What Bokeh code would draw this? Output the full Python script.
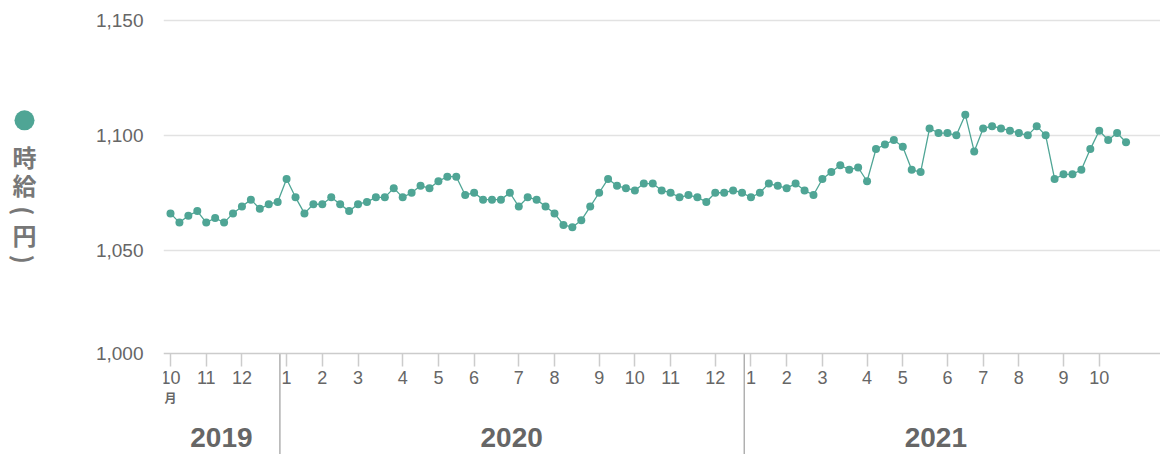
import math
import pandas as pd
from bokeh.plotting import figure
from bokeh.layouts import row
from bokeh.models import Range1d, LinearAxis, FixedTicker, ColumnDataSource, Grid
from bokeh.core.properties import value
from bokeh.embed import file_html
from bokeh.resources import INLINE

# ---------------- data ----------------
first_week = "2019-10-07"          # weekly series (Mondays)
wage = [1066, 1062, 1065, 1067, 1062, 1064, 1062, 1066, 1069, 1072,
        1068, 1070, 1071, 1081, 1073, 1066, 1070, 1070, 1073, 1070,
        1067, 1070, 1071, 1073, 1073, 1077, 1073, 1075, 1078, 1077,
        1080, 1082, 1082, 1074, 1075, 1072, 1072, 1072, 1075, 1069,
        1073, 1072, 1069, 1066, 1061, 1060, 1063, 1069, 1075, 1081,
        1078, 1077, 1076, 1079, 1079, 1076, 1075, 1073, 1074, 1073,
        1071, 1075, 1075, 1076, 1075, 1073, 1075, 1079, 1078, 1077,
        1079, 1076, 1074, 1081, 1084, 1087, 1085, 1086, 1080, 1094,
        1096, 1098, 1095, 1085, 1084, 1103, 1101, 1101, 1100, 1109,
        1093, 1103, 1104, 1103, 1102, 1101, 1100, 1104, 1100, 1081,
        1083, 1083, 1085, 1094, 1102, 1098, 1101, 1097]
y_ticks = [1005, 1050, 1100, 1150]
y_tick_labels = ["1,000", "1,050", "1,100", "1,150"]
grid_values = [1050, 1100, 1150]
month_suffix = "月"
legend_chars = ["時", "給", "円"]
legend_parens = ["(", ")"]          # drawn rotated (vertical writing)

# ---------------- derived ----------------
weeks = pd.date_range(first_week, periods=len(wage), freq="W-MON")
idx = list(range(len(wage)))
month_ticks = [i for i in idx if i == 0 or weeks[i].month != weeks[i - 1].month]
month_labels = {i: str(weeks[i].month) for i in month_ticks}
years = sorted(set(int(y) for y in weeks.year))
year_first = [min(i for i in idx if weeks[i].year == y) for y in years]
year_last = [max(i for i in idx if weeks[i].year == y) for y in years]

TEAL = "#4fa595"
GRAY = "#666666"
FONT = "Liberation Sans"
CJK = "Noto Sans CJK JP"
H = 454
LEFT_W = 60
MAIN_W = 1160 - LEFT_W

# ---------------- left legend panel ----------------
lp = figure(width=LEFT_W, height=H, x_range=Range1d(0, LEFT_W), y_range=Range1d(H, 0),
            x_axis_type=None, y_axis_type=None, output_backend="svg",
            toolbar_location=None, min_border=0, title=None)
lp.outline_line_color = None
lp.grid.visible = False
lp.scatter(x=[24], y=[110], size=20, fill_color=TEAL, line_color=None)
lp.text(x=[24] * len(legend_chars), y=[147, 176, 228], text=legend_chars,
        text_align="center", text_baseline="middle",
        text_font=value(CJK), text_font_style="bold",
        text_font_size="24px", text_color="#777777")
lp.text(x=[24, 24], y=[203, 253], text=legend_parens, angle=-math.pi / 2,
        text_align="center", text_baseline="middle",
        text_font=value(CJK), text_font_style="bold",
        text_font_size="24px", text_color="#777777")

# ---------------- main chart ----------------
p = figure(width=MAIN_W, height=H, x_range=Range1d(-0.784, 110.86),
           y_range=Range1d(961.02, 1153.05),
           x_axis_type=None, y_axis_type=None,
           output_backend="svg", toolbar_location=None, title=None,
           min_border_left=163 - LEFT_W, min_border_right=0,
           min_border_top=13, min_border_bottom=0)
p.outline_line_color = None

p.add_layout(Grid(dimension=1, ticker=FixedTicker(ticks=grid_values),
                  grid_line_color="#e2e2e2", grid_line_width=1.5))

yaxis = LinearAxis(ticker=FixedTicker(ticks=y_ticks),
                   major_label_overrides=dict(zip(y_ticks, y_tick_labels)),
                   axis_line_color=None, major_tick_line_color=None,
                   minor_tick_line_color=None, major_tick_out=0, major_tick_in=0,
                   major_label_standoff=20,
                   major_label_text_font=FONT,
                   major_label_text_font_size="19px",
                   major_label_text_color=GRAY)
p.add_layout(yaxis, "left")

xaxis = LinearAxis(fixed_location=y_ticks[0],
                   ticker=FixedTicker(ticks=month_ticks),
                   major_label_overrides=month_labels,
                   axis_line_color="#cccccc", axis_line_width=1.5,
                   major_tick_line_color="#cccccc", major_tick_line_width=1.5,
                   major_tick_out=13, major_tick_in=0,
                   minor_tick_line_color=None,
                   major_label_standoff=5,
                   major_label_text_font=FONT,
                   major_label_text_font_size="18px",
                   major_label_text_color=GRAY)
p.add_layout(xaxis, "below")

# year separators
sep_x = [f - 0.75 for f in year_first[1:]]
p.segment(x0=sep_x, x1=sep_x, y0=[y_ticks[0]] * len(sep_x),
          y1=[p.y_range.start] * len(sep_x),
          line_color="#b0b0b0", line_width=1.5)

# year labels
p.text(x=[(a + b) / 2 - 0.3 for a, b in zip(year_first, year_last)],
       y=[y_ticks[0]] * len(years), text=[str(y) for y in years],
       y_offset=84, text_align="center", text_baseline="middle",
       text_font=value(FONT), text_font_style="bold",
       text_font_size="28px", text_color=GRAY)

# 月 under the first month label
p.text(x=[month_ticks[0]], y=[y_ticks[0]], text=[month_suffix],
       y_offset=44, text_align="center", text_baseline="middle",
       text_font=value(CJK), text_font_style="bold",
       text_font_size="12px", text_color=GRAY)

src = ColumnDataSource(dict(week=idx, wage=wage))
p.line("week", "wage", source=src, line_color=TEAL, line_width=1.3)
p.scatter("week", "wage", source=src, size=8, fill_color=TEAL, line_color=None)

layout = row(lp, p, spacing=0)
open("out.html", "w").write(file_html(layout, INLINE))
